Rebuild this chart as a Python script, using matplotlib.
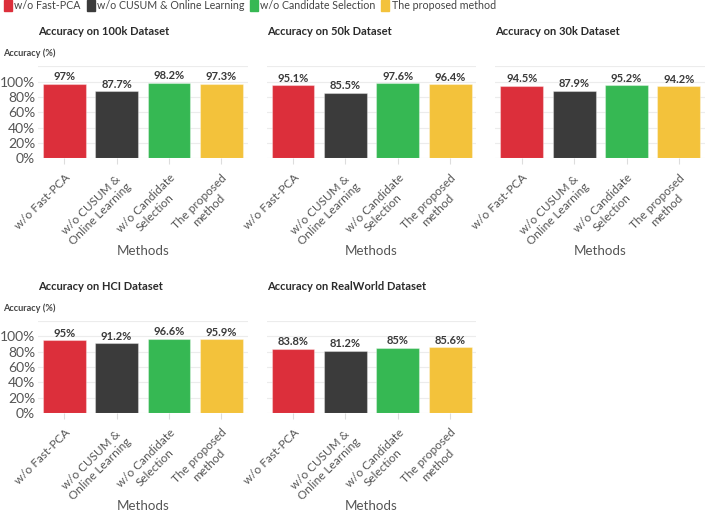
import matplotlib.pyplot as plt
from matplotlib.patches import Patch

# -----------------------------------------
# DATA
# -----------------------------------------
methods = [
    "w/o Fast-PCA",
    "w/o CUSUM &\nOnline Learning",
    "w/o Candidate\nSelection",
    "The proposed\nmethod",
]
legend_names = [
    "w/o Fast-PCA",
    "w/o CUSUM & Online Learning",
    "w/o Candidate Selection",
    "The proposed method",
]
colors = ["#DC2F3B", "#3B3B3B", "#36B853", "#F3C23B"]

titles = [
    "Accuracy on 100k Dataset",
    "Accuracy on 50k Dataset",
    "Accuracy on 30k Dataset",
    "Accuracy on HCI Dataset",
    "Accuracy on RealWorld Dataset",
]
acc_100k = [97, 87.7, 98.2, 97.3]
acc_50k = [95.1, 85.5, 97.6, 96.4]
acc_30k = [94.5, 87.9, 95.2, 94.2]
acc_hci = [95, 91.2, 96.6, 95.9]
acc_real = [83.8, 81.2, 85, 85.6]
all_values = [acc_100k, acc_50k, acc_30k, acc_hci, acc_real]

y_ticks = [0, 20, 40, 60, 80, 100]

# -----------------------------------------
# STYLE
# -----------------------------------------
plt.rcParams["font.family"] = ["Lato", "DejaVu Sans"]

W, H = 708, 511
fig = plt.figure(figsize=(W / 100, H / 100), dpi=100)

# axes boxes in pixels: left, top, bottom(0% baseline)
lefts = [38, 266.8, 495.5]
ax_w = 209.6
rows = [(66.3, 158.3), (321.0, 413.0)]
positions = [(0, 0), (0, 1), (0, 2), (1, 0), (1, 1)]

for i, (r, c) in enumerate(positions):
    top, bottom = rows[r]
    ax = fig.add_axes([lefts[c] / W, 1 - bottom / H, ax_w / W, (bottom - top) / H])
    vals = all_values[i]
    x = range(len(methods))
    bars = ax.bar(x, vals, width=0.82, color=colors, linewidth=0.8, zorder=2)
    for b in bars:
        b.set_edgecolor((1, 1, 1, 0.35))
    for xi, v in zip(x, vals):
        ax.text(xi, v + 2, f"{v:g}%", ha="center", va="bottom",
                fontsize=8, fontweight="bold", color="#3a3a3a")

    ax.set_xlim(-0.5, 3.5)
    ax.set_ylim(0, 120)
    ax.set_yticks(y_ticks + [120])
    if c == 0:
        ax.set_yticklabels([f"{t}%" for t in y_ticks] + [""])
    else:
        ax.set_yticklabels([])
    ax.tick_params(axis="y", length=0, labelsize=10, labelcolor="#555555", pad=2)
    ax.grid(axis="y", color="#ececec", linewidth=0.8, zorder=0)

    ax.set_xticks(list(x))
    ax.set_xticklabels(methods, rotation=45, ha="right", rotation_mode="anchor",
                       multialignment="center", fontsize=8.5, color="#555555")
    ax.tick_params(axis="x", length=4, color="#dddddd", pad=6)

    for s in ax.spines.values():
        s.set_visible(False)

    ax.text(0, 1 + 35 / (bottom - top), titles[i], transform=ax.transAxes,
            ha="left", va="center", fontsize=8.0, fontweight="bold", color="#2b2b2b")
    if c == 0:
        fig.text(3 / W, 1 - (top - 13) / H, "Accuracy (%)", ha="left",
                 va="center", fontsize=6.6, fontweight="bold", color="#444444")

    fig.text((lefts[c] + ax_w / 2) / W, 1 - (bottom + 93) / H, "Methods",
             ha="center", va="center", fontsize=9.6, color="#555555")

# -----------------------------------------
# LEGEND
# -----------------------------------------
handles = [Patch(facecolor=col, edgecolor=col, label=name)
           for col, name in zip(colors, legend_names)]
fig.legend(handles=handles, loc="upper left", bbox_to_anchor=(-0.003, 1.012),
           ncol=4, frameon=False, fontsize=7.7, handlelength=0.74, handleheight=1.2,
           handletextpad=0.2, columnspacing=0.55, labelcolor="#444444",
           borderaxespad=0.2)

fig.savefig("out.png", dpi=100, facecolor="white")
